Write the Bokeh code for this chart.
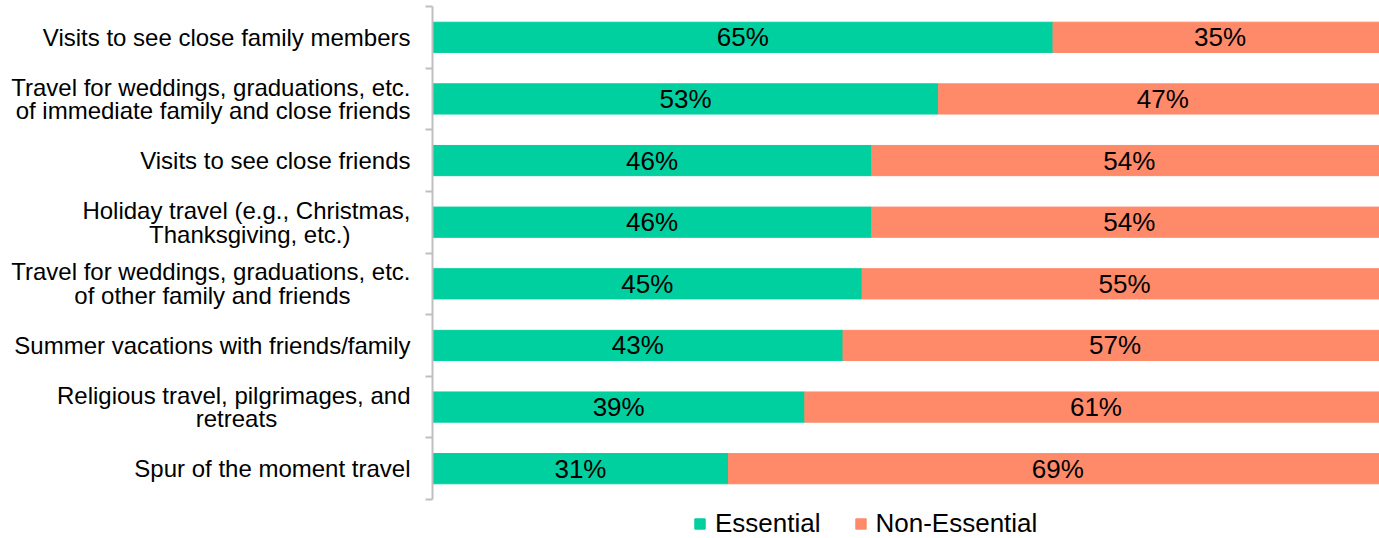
from bokeh.plotting import figure
from bokeh.models import Range1d, FixedTicker, ColumnDataSource, Legend, LegendItem
from bokeh.core.properties import value
from bokeh.embed import file_html
from bokeh.resources import INLINE

NB = "\u00a0"  # pads the shorter line of a two-line label so it sits centred

categories = [
    "Visits to see close family members",
    "Travel for weddings, graduations, etc.\nof immediate family and close friends",
    "Visits to see close friends",
    "Holiday travel (e.g., Christmas,\nThanksgiving, etc.)" + NB * 9,
    "Travel for weddings, graduations, etc.\nof other family and friends" + NB * 9,
    "Summer vacations with friends/family",
    "Religious travel, pilgrimages, and\nretreats" + NB * 20,
    "Spur of the moment travel",
]
essential = [65, 53, 46, 46, 45, 43, 39, 31]
non_essential = [35, 47, 54, 54, 55, 57, 61, 69]
series_names = ["Essential", "Non-Essential"]
colors = ["#00CF9F", "#FF8A6A"]

FONT = "Liberation Sans"
n = len(categories)
ypos = [n - i - 0.5 for i in range(n)]

src = ColumnDataSource(dict(
    y=ypos,
    essential=essential,
    non_essential=non_essential,
    ess_mid=[e / 2 for e in essential],
    non_mid=[e + ne / 2 for e, ne in zip(essential, non_essential)],
    ess_lab=[f"{e}%" for e in essential],
    non_lab=[f"{ne}%" for ne in non_essential],
))

W, H = 1379, 538
TOP, LEFT, CAT_H = 6, 432, 493
# frame: categories occupy the top CAT_H px, legend strip below
p = figure(width=W, height=H, output_backend="svg", toolbar_location=None,
           x_range=Range1d(0, 99.2),
           y_range=Range1d(-(H - TOP - CAT_H) / (CAT_H / n), n),
           min_border_left=LEFT, min_border_right=0, min_border_top=TOP,
           min_border_bottom=0)

rs = p.hbar_stack(["essential", "non_essential"], y="y", height=0.49,
                  color=colors, source=src)

for xcol, tcol in (("ess_mid", "ess_lab"), ("non_mid", "non_lab")):
    p.text(x=xcol, y="y", text=tcol, source=src, text_align="center",
           text_baseline="middle", text_font=value(FONT),
           text_font_size="26px", text_color="#000000")

p.xaxis.visible = False
p.xgrid.visible = False
p.ygrid.visible = False
p.outline_line_color = None

ax = p.yaxis[0]
ax.bounds = (0, n)
ax.ticker = FixedTicker(ticks=ypos, minor_ticks=list(range(n + 1)))
ax.major_label_overrides = {y: c for y, c in zip(ypos, categories)}
ax.major_tick_out = 0
ax.major_tick_in = 0
ax.minor_tick_out = 7
ax.minor_tick_in = 0
ax.minor_tick_line_color = "#BFBFBF"
ax.minor_tick_line_width = 2
ax.axis_line_color = "#BFBFBF"
ax.axis_line_width = 2
ax.major_label_standoff = 15
ax.major_label_text_font = FONT
ax.major_label_text_font_size = "24px"
ax.major_label_text_color = "#000000"
ax.major_label_text_line_height = 0.88

legend = Legend(items=[LegendItem(label=s, renderers=[r]) for s, r in zip(series_names, rs)],
                orientation="horizontal", location=(261, -1),
                glyph_width=13, glyph_height=13, label_standoff=9, spacing=33,
                padding=0, margin=0, border_line_color=None,
                background_fill_alpha=0,
                label_text_font=FONT, label_text_font_size="26px",
                label_text_color="#000000")
p.add_layout(legend, "center")

open("out.html", "w").write(file_html(p, INLINE))
